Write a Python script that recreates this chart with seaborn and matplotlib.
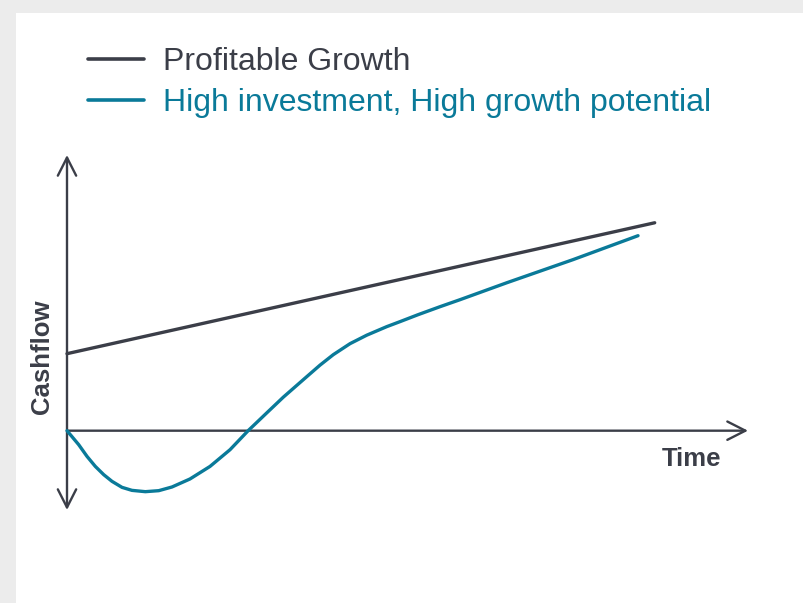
import matplotlib
matplotlib.use("Agg")
import matplotlib.pyplot as plt
from matplotlib.patches import Rectangle
import pandas as pd
import seaborn as sns

# Series values (time units, cashflow units)
series_names = ["Profitable Growth", "High investment, High growth potential"]

profitable_time = [0.0, 8.63]
profitable_cash = [1.00, 2.70]

invest_time = [0.000, 0.172, 0.294, 0.416, 0.539, 0.661, 0.808, 0.954, 1.150, 1.347,
               1.542, 1.806, 2.100, 2.394, 2.660, 2.932, 3.176, 3.520, 3.715, 3.910,
               4.156, 4.401, 4.695, 4.890, 5.154, 5.477, 5.771, 6.461, 7.430, 8.385]
invest_cash = [0.000, -0.182, -0.334, -0.464, -0.571, -0.658, -0.736, -0.775, -0.792, -0.779,
               -0.731, -0.627, -0.464, -0.247, 0.000, 0.230, 0.435, 0.701, 0.851, 0.987,
               1.130, 1.240, 1.351, 1.416, 1.506, 1.610, 1.701, 1.922, 2.221, 2.532]

axis_labels = ["Time", "Cashflow"]

dark = "#3b3e48"
teal = "#0a7a99"

df = pd.concat([
    pd.DataFrame({"time": profitable_time, "cash": profitable_cash, "series": series_names[0]}),
    pd.DataFrame({"time": invest_time, "cash": invest_cash, "series": series_names[1]}),
], ignore_index=True)

sns.set_theme(style="white")
plt.rcParams["font.family"] = ["Liberation Sans", "DejaVu Sans"]

W, H = 804, 603
fig = plt.figure(figsize=(W / 100, H / 100), dpi=100)
fig.patch.set_facecolor("#ececec")
fig.patches.append(Rectangle((16 / W, 0), 1, 1 - 13 / H, transform=fig.transFigure,
                             facecolor="white", edgecolor="none", zorder=-10))

x0, x1, y0, y1 = 67, 748, 510, 155
ax = fig.add_axes([x0 / W, 1 - y0 / H, (x1 - x0) / W, (y0 - y1) / H])
ax.set_zorder(2)
ax.set_facecolor("none")
ax.set_xlim(0, 10)
ax.set_ylim(-1.03, 3.58)

sns.lineplot(data=df, x="time", y="cash", hue="series", hue_order=series_names,
             palette=[dark, teal], linewidth=2.4, ax=ax, sort=False,
             legend=False)
for ln in ax.lines:
    ln.set_solid_capstyle("round")
    ln.set_solid_joinstyle("round")
    ln.set_clip_on(False)
    ln.set_zorder(3)

for s in ax.spines.values():
    s.set_visible(False)
ax.set_xticks([])
ax.set_yticks([])
ax.set_xlabel("")
ax.set_ylabel("")

arrow_kw = dict(lw=1.7, color=dark, shrinkA=0, shrinkB=0, mutation_scale=20)
ax.annotate("", xy=(10, 0), xytext=(0, 0), annotation_clip=False,
            arrowprops=dict(arrowstyle="->,head_length=0.65,head_width=0.33", **arrow_kw),
            zorder=1)
ax.annotate("", xy=(0, 3.58), xytext=(0, -1.03), annotation_clip=False,
            arrowprops=dict(arrowstyle="<->,head_length=0.65,head_width=0.33", **arrow_kw),
            zorder=1)

fig.text(692 / W, 1 - 459 / H, axis_labels[0], ha="center", va="center",
         fontsize=18.5, fontweight="bold", color=dark)
fig.text(42 / W, 1 - 357 / H, axis_labels[1], ha="center", va="center",
         rotation=90, fontsize=18.5, fontweight="bold", color=dark)

# Legend
handles = [plt.Line2D([], [], color=dark, lw=2.6), plt.Line2D([], [], color=teal, lw=2.6)]
leg = fig.legend(handles, series_names, loc="upper left",
                 bbox_to_anchor=(88 / W, 1 - 47 / H), frameon=False,
                 fontsize=23, handlelength=1.74, handletextpad=0.6,
                 labelspacing=0.36, borderpad=0, borderaxespad=0)
for t, c in zip(leg.get_texts(), [dark, teal]):
    t.set_color(c)

fig.savefig("out.png", dpi=100)
